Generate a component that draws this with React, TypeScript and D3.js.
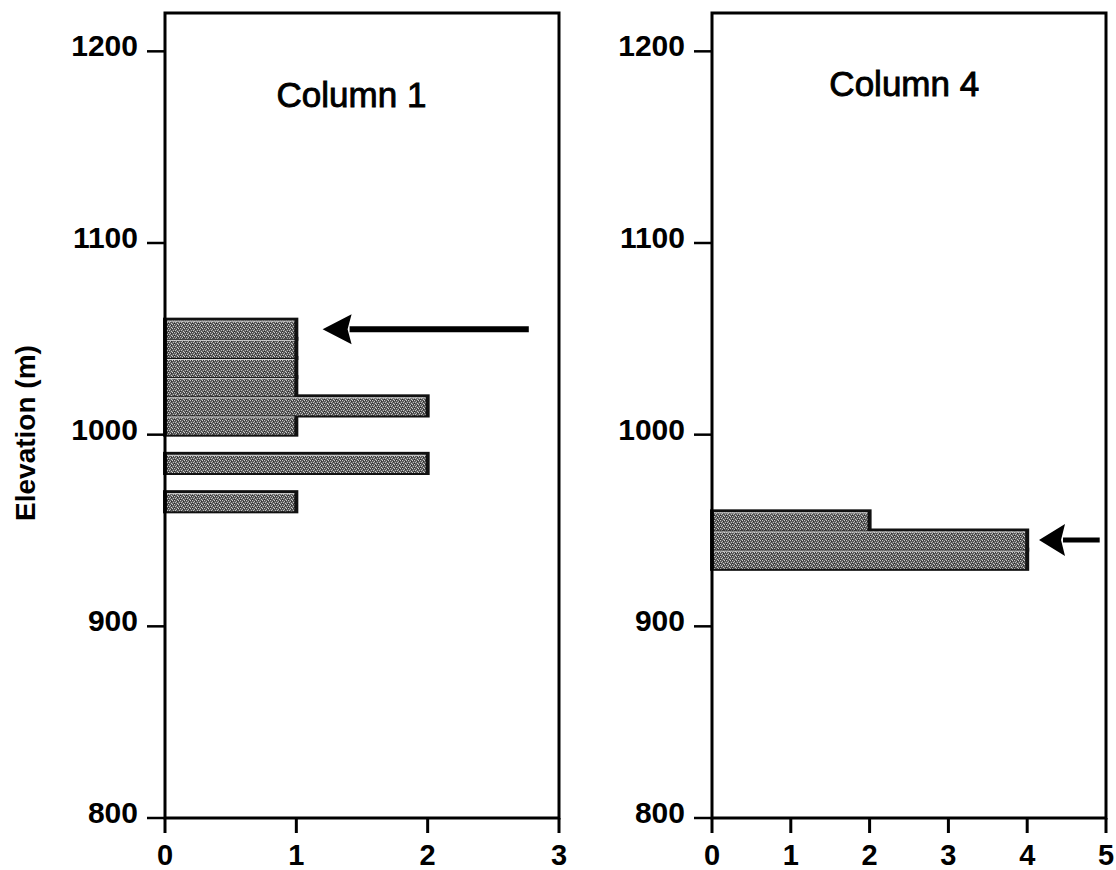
import React from 'react';
import * as d3 from 'd3';

// ---- data ----
const yTicks = [800, 900, 1000, 1100, 1200];
const binSize = 10;

const col1BinBottoms = [1050, 1040, 1030, 1020, 1010, 1000, 980, 960];
const col1Counts = [1, 1, 1, 1, 2, 1, 2, 1];
const col1XTicks = [0, 1, 2, 3];

const col4BinBottoms = [950, 940, 930];
const col4Counts = [2, 4, 4];
const col4XTicks = [0, 1, 2, 3, 4, 5];

const col1Arrow = { elevation: 1055, from: 2.77, to: 1.2 };
const col4Arrow = { elevation: 945, from: 4.92, to: 4.15 };

const FONT = '"Liberation Sans", Arial, Helvetica, sans-serif';

const yScale = d3.scaleLinear().domain([800, 1220]).range([818, 13]);

type PanelProps = {
  x0: number;
  x1: number;
  xMax: number;
  xTicks: number[];
  bins: number[];
  counts: number[];
  title: string;
  titleX: number;
  titleY: number;
  arrow: { elevation: number; from: number; to: number };
  headLen: number;
  headHalf: number;
  shaft: number;
};

function Panel(p: PanelProps) {
  const x = d3.scaleLinear().domain([0, p.xMax]).range([p.x0, p.x1]);
  const top = yScale.range()[1];
  const bottom = yScale.range()[0];
  const bars = p.bins.map((b, i) => ({
    x0: x(0),
    x1: x(p.counts[i]),
    yTop: yScale(b + binSize),
    yBot: yScale(b),
  }));
  const ay = yScale(p.arrow.elevation);
  const tipX = x(p.arrow.to);
  const tailX = x(p.arrow.from);
  return (
    <g>
      {bars.map((b, i) => (
        <rect
          key={'o' + i}
          x={b.x0}
          y={b.yTop}
          width={b.x1 - b.x0}
          height={b.yBot - b.yTop}
          fill="#111"
          stroke="#111"
          strokeWidth={4}
        />
      ))}
      {bars.map((b, i) => (
        <rect
          key={'f' + i}
          x={b.x0 + 2}
          y={b.yTop + 1}
          width={b.x1 - b.x0 - 4}
          height={b.yBot - b.yTop - 1}
          fill="url(#speckle)"
        />
      ))}
      {bars.map((b, i) => (
        <line
          key={'s' + i}
          x1={b.x0 + 2}
          x2={b.x1 - 2}
          y1={b.yTop + 1.5}
          y2={b.yTop + 1.5}
          stroke="#d8d8d8"
          strokeWidth={1}
        />
      ))}
      <rect
        x={p.x0}
        y={top}
        width={p.x1 - p.x0}
        height={bottom - top}
        fill="none"
        stroke="#000"
        strokeWidth={3}
      />
      {yTicks.map((t) => (
        <g key={'y' + t}>
          <line x1={p.x0 - 18} x2={p.x0} y1={yScale(t)} y2={yScale(t)} stroke="#000" strokeWidth={2.5} />
          <text
            x={p.x0 - 27}
            y={yScale(t) + 5}
            textAnchor="end"
            fontFamily={FONT}
            fontWeight="bold"
            fontSize={30}
            fill="#000"
          >
            {t}
          </text>
        </g>
      ))}
      {p.xTicks.map((t) => (
        <g key={'x' + t}>
          <line x1={x(t)} x2={x(t)} y1={bottom} y2={bottom + 15} stroke="#000" strokeWidth={3} />
          <text
            x={x(t)}
            y={bottom + 47}
            textAnchor="middle"
            fontFamily={FONT}
            fontWeight="bold"
            fontSize={29}
            fill="#000"
          >
            {t}
          </text>
        </g>
      ))}
      <text
        x={x(p.titleX)}
        y={p.titleY}
        textAnchor="middle"
        fontFamily={FONT}
        fontSize={35}
        fill="#000"
        stroke="#000"
        strokeWidth={0.9}
      >
        {p.title}
      </text>
      <line x1={tailX} x2={tipX + p.headLen - 2} y1={ay} y2={ay} stroke="#000" strokeWidth={p.shaft} />
      <path
        d={`M${tipX},${ay} L${tipX + p.headLen},${ay - p.headHalf} L${tipX + p.headLen - 4},${ay} L${tipX + p.headLen},${ay + p.headHalf} Z`}
        fill="#000"
      />
    </g>
  );
}

export default function App() {
  return (
    <svg
      width={1116}
      height={870}
      style={{ position: 'absolute', left: 0, top: 0, background: '#fff' }}
    >
      <defs>
        <pattern id="speckle" width={6} height={4} patternUnits="userSpaceOnUse">
          <rect width={6} height={4} fill="#5c5c5c" />
          <rect x={0} y={0} width={1} height={1} fill="#c8c8c8" />
          <rect x={2} y={1} width={1} height={1} fill="#bdbdbd" />
          <rect x={4} y={0} width={1} height={1} fill="#d0d0d0" />
          <rect x={1} y={2} width={1} height={1} fill="#c4c4c4" />
          <rect x={3} y={3} width={1} height={1} fill="#cccccc" />
          <rect x={5} y={2} width={1} height={1} fill="#b8b8b8" />
          <rect x={3} y={1} width={1} height={1} fill="#2a2a2a" />
          <rect x={0} y={3} width={1} height={1} fill="#2a2a2a" />
          <rect x={5} y={0} width={1} height={1} fill="#333" />
        </pattern>
      </defs>
      <rect width={1116} height={870} fill="#fff" />
      <Panel
        x0={165}
        x1={559}
        xMax={3}
        xTicks={col1XTicks}
        bins={col1BinBottoms}
        counts={col1Counts}
        title="Column 1"
        titleX={1.42}
        titleY={107}
        arrow={col1Arrow}
        headLen={29}
        headHalf={15}
        shaft={6}
      />
      <Panel
        x0={712}
        x1={1106}
        xMax={5}
        xTicks={col4XTicks}
        bins={col4BinBottoms}
        counts={col4Counts}
        title="Column 4"
        titleX={2.44}
        titleY={96}
        arrow={col4Arrow}
        headLen={26}
        headHalf={16}
        shaft={5}
      />
      <text
        transform="translate(35,433) rotate(-90)"
        textAnchor="middle"
        fontFamily={FONT}
        fontWeight="bold"
        fontSize={28}
        fill="#000"
      >
        Elevation (m)
      </text>
    </svg>
  );
}
